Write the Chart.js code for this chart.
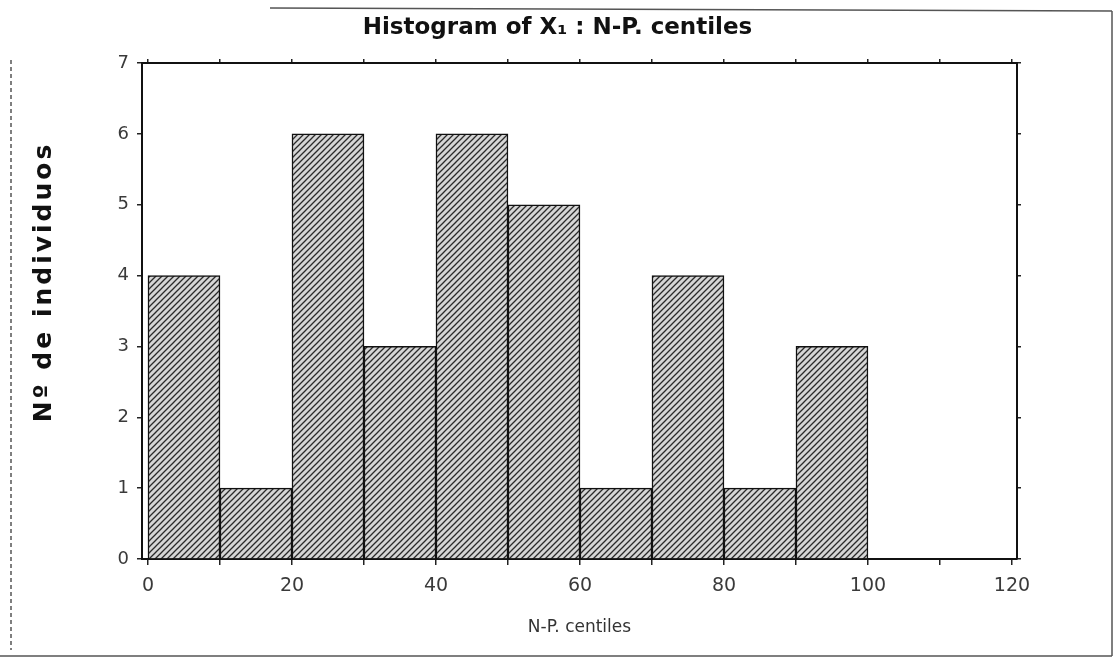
<!DOCTYPE html>
<html>
<head>
<meta charset="utf-8">
<title>Histogram of X1 : N-P. centiles</title>
<script src="https://cdn.jsdelivr.net/npm/chart.js@4.4.0/dist/chart.umd.min.js"></script>
<style>
    html, body { margin: 0; padding: 0; background: #fff; }
    #wrap { width: 1115px; height: 659px; position: relative; }
</style>
</head>
<body>
<div id="wrap"><canvas id="histChart"></canvas></div>
<script>
// Histogram data (bins of width 10)
const binCenters = [5, 15, 25, 35, 45, 55, 65, 75, 85, 95];
const counts = [4, 1, 6, 3, 6, 5, 1, 4, 1, 3];

// Axis ticks
const xTickValues = [0, 10, 20, 30, 40, 50, 60, 70, 80, 90, 100, 110, 120];
const xTickLabels = ['0', '', '20', '', '40', '', '60', '', '80', '', '100', '', '120'];
const yTickValues = [0, 1, 2, 3, 4, 5, 6, 7];
const yTickLabels = ['0', '1', '2', '3', '4', '5', '6', '7'];

const chartTitle = 'Histogram of X\u2081 : N-P. centiles';
const xTitle = 'N-P. centiles';
const yTitle = 'N\u00BA de individuos';

Chart.defaults.font.family = "'DejaVu Sans', sans-serif";
Chart.defaults.color = '#333';

// diagonal hatch fill like the old printout
function makeHatch() {
    const c = document.createElement('canvas');
    c.width = 6;
    c.height = 6;
    const g = c.getContext('2d');
    g.fillStyle = '#d6d6d6';
    g.fillRect(0, 0, 6, 6);
    g.strokeStyle = '#2a2a2a';
    g.lineWidth = 1.3;
    g.beginPath();
    g.moveTo(0, 6); g.lineTo(6, 0);
    g.moveTo(-3, 3); g.lineTo(3, -3);
    g.moveTo(3, 9); g.lineTo(9, 3);
    g.stroke();
    return g.createPattern(c, 'repeat');
}

// page frame + rotated y title
const framePlugin = {
    id: 'frame',
    beforeDraw(chart) {
        const ctx = chart.ctx;
        ctx.save();
        ctx.fillStyle = '#fff';
        ctx.fillRect(0, 0, chart.width, chart.height);
        ctx.strokeStyle = '#555';
        ctx.lineWidth = 1.5;
        ctx.beginPath();
        ctx.moveTo(270, 8); ctx.lineTo(1112, 11);
        ctx.moveTo(1112, 11); ctx.lineTo(1112, 656);
        ctx.moveTo(0, 656); ctx.lineTo(1112, 656);
        ctx.stroke();
        ctx.setLineDash([4, 3]);
        ctx.beginPath();
        ctx.moveTo(11, 60); ctx.lineTo(11, 650);
        ctx.stroke();
        ctx.restore();
    },
    afterDraw(chart) {
        const ctx = chart.ctx;
        ctx.save();
        ctx.translate(44, 282);
        ctx.rotate(-Math.PI / 2);
        ctx.font = "bold 25px 'DejaVu Sans'";
        ctx.letterSpacing = '3px';
        ctx.fillStyle = '#111';
        ctx.textAlign = 'center';
        ctx.textBaseline = 'middle';
        ctx.fillText(yTitle, 0, 0);
        ctx.restore();
    }
};

function renderHistogram() {
    const ctx = document.getElementById('histChart').getContext('2d');
    const setXTicks = s => { s.ticks = xTickValues.map(v => ({ value: v })); };
    const setYTicks = s => { s.ticks = yTickValues.map(v => ({ value: v })); };
    const xMin = -0.83, xMax = 120.7;

    new Chart(ctx, {
        type: 'bar',
        data: {
            datasets: [{
                data: binCenters.map((x, i) => ({ x: x, y: counts[i] })),
                backgroundColor: makeHatch(),
                borderColor: '#111',
                borderWidth: 1.5,
                categoryPercentage: 1,
                barPercentage: 1,
                grouped: false
            }]
        },
        options: {
            responsive: true,
            maintainAspectRatio: false,
            animation: false,
            layout: { padding: 0 },
            plugins: {
                legend: { display: false },
                tooltip: { enabled: false },
                title: {
                    display: true,
                    text: chartTitle,
                    color: '#111',
                    font: { size: 23, weight: 'bold' },
                    padding: { top: 14, bottom: 21.4 }
                }
            },
            scales: {
                x: {
                    type: 'linear',
                    position: 'bottom',
                    offset: false,
                    min: xMin,
                    max: xMax,
                    afterBuildTicks: setXTicks,
                    afterFit: s => { s.height = 100; },
                    ticks: {
                        callback: (v, i) => xTickLabels[i],
                        font: { size: 19 },
                        color: '#3a3a3a',
                        padding: 10,
                        maxRotation: 0,
                        autoSkip: false
                    },
                    grid: { offset: false, drawOnChartArea: false, tickLength: 6, color: '#222', lineWidth: 1.5 },
                    border: { color: '#111', width: 2 },
                    title: {
                        display: true,
                        text: xTitle,
                        color: '#333',
                        font: { size: 17 },
                        padding: { top: 0, bottom: 21 }
                    }
                },
                xTop: {
                    type: 'linear',
                    position: 'top',
                    offset: false,
                    min: xMin,
                    max: xMax,
                    afterBuildTicks: setXTicks,
                    afterFit: s => { s.height = 0; },
                    ticks: { display: false },
                    grid: { offset: false, drawOnChartArea: false, tickLength: 4, color: '#222', lineWidth: 1.5 },
                    border: { color: '#111', width: 2 }
                },
                y: {
                    type: 'linear',
                    position: 'left',
                    min: 0,
                    max: 7,
                    afterBuildTicks: setYTicks,
                    afterFit: s => { s.width = 142; },
                    ticks: {
                        callback: (v, i) => yTickLabels[i],
                        font: { size: 18 },
                        color: '#3a3a3a',
                        padding: 8
                    },
                    grid: { drawOnChartArea: false, tickLength: 5, color: '#222', lineWidth: 1.5 },
                    border: { color: '#111', width: 2 }
                },
                yRight: {
                    type: 'linear',
                    position: 'right',
                    min: 0,
                    max: 7,
                    afterBuildTicks: setYTicks,
                    afterFit: s => { s.width = 98; },
                    ticks: { display: false },
                    grid: { drawOnChartArea: false, tickLength: 4, color: '#222', lineWidth: 1.5 },
                    border: { color: '#111', width: 2 }
                }
            }
        },
        plugins: [framePlugin]
    });
}

window.addEventListener('load', renderHistogram);
</script>
</body>
</html>
